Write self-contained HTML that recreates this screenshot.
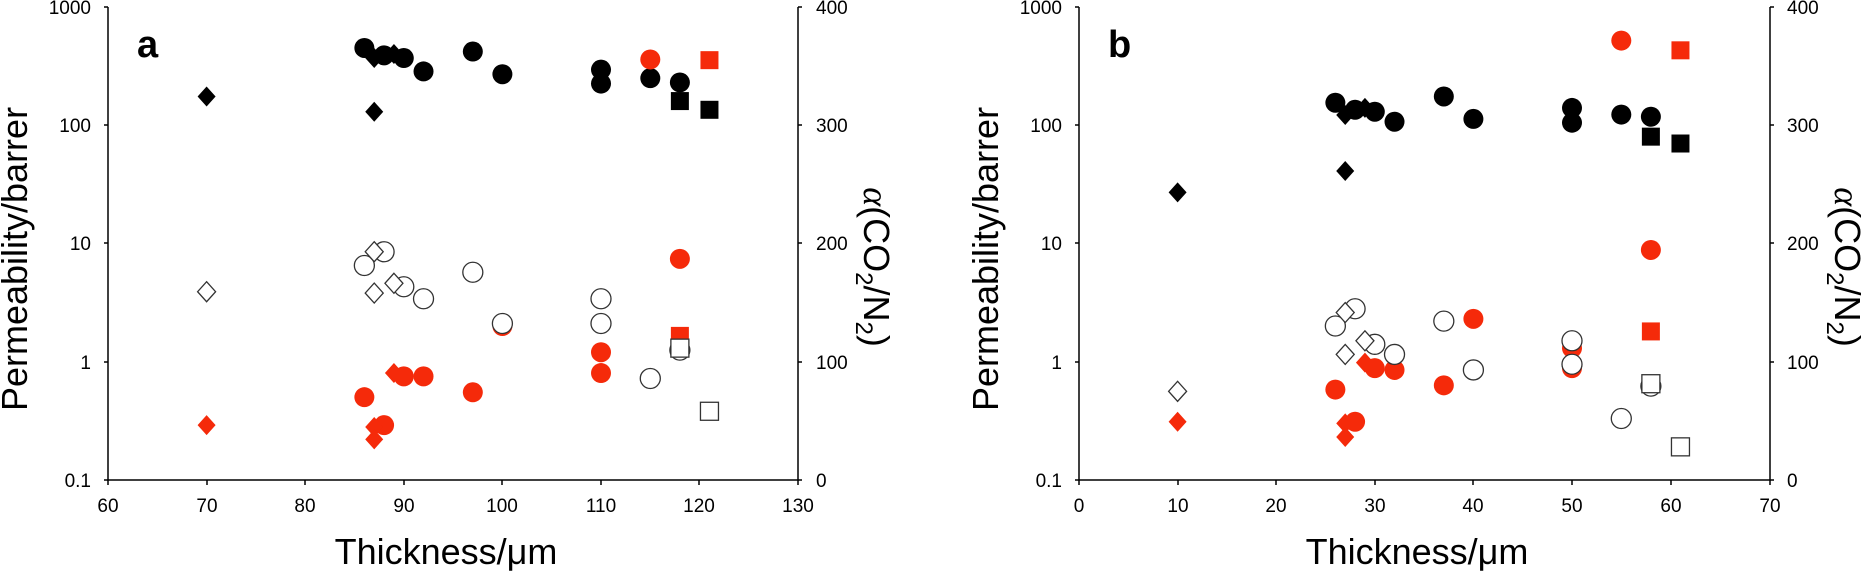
<!DOCTYPE html>
<html><head><meta charset="utf-8"><style>
html,body{margin:0;padding:0;background:#fff;}
svg{display:block;font-family:"Liberation Sans",Arial,sans-serif;}
</style></head><body>
<svg id="s" width="1867" height="572" viewBox="0 0 1867 572" xmlns="http://www.w3.org/2000/svg">
<g stroke="#000" stroke-width="1.5" fill="none">
<path d="M108,7 V480 H798 V7"/>
<path d="M104,7H108M104,125H108M104,243H108M104,362H108M104,480H108"/>
<path d="M798,7H802M798,125H802M798,243H802M798,362H802M798,480H802"/>
<path d="M108,480V485M207,480V485M305,480V485M404,480V485M502,480V485M601,480V485M699,480V485M798,480V485"/>
<path d="M1079,7 V480 H1770 V7"/>
<path d="M1075,7H1079M1075,125H1079M1075,243H1079M1075,362H1079M1075,480H1079"/>
<path d="M1770,7H1774M1770,125H1774M1770,243H1774M1770,362H1774M1770,480H1774"/>
<path d="M1079,480V485M1178,480V485M1276,480V485M1375,480V485M1473,480V485M1572,480V485M1671,480V485M1770,480V485"/>
</g>
<g font-size="19" fill="#000" text-anchor="end">
<text x="91" y="14">1000</text><text x="91" y="132">100</text><text x="91" y="250">10</text><text x="91" y="369">1</text><text x="91" y="487">0.1</text>
<text x="1062" y="14">1000</text><text x="1062" y="132">100</text><text x="1062" y="250">10</text><text x="1062" y="369">1</text><text x="1062" y="487">0.1</text>
</g>
<g font-size="19" fill="#000" text-anchor="start">
<text x="816" y="14">400</text><text x="816" y="132">300</text><text x="816" y="250">200</text><text x="816" y="369">100</text><text x="816" y="487">0</text>
<text x="1787" y="14">400</text><text x="1787" y="132">300</text><text x="1787" y="250">200</text><text x="1787" y="369">100</text><text x="1787" y="487">0</text>
</g>
<g font-size="19" fill="#000" text-anchor="middle">
<text x="108" y="512">60</text><text x="207" y="512">70</text><text x="305" y="512">80</text><text x="404" y="512">90</text><text x="502" y="512">100</text><text x="601" y="512">110</text><text x="699" y="512">120</text><text x="798" y="512">130</text>
<text x="1079" y="512">0</text><text x="1178" y="512">10</text><text x="1276" y="512">20</text><text x="1375" y="512">30</text><text x="1473" y="512">40</text><text x="1572" y="512">50</text><text x="1671" y="512">60</text><text x="1770" y="512">70</text>
</g>
<g font-size="36" fill="#000" text-anchor="middle">
<text x="446" y="564">Thickness/μm</text>
<text x="1417" y="564">Thickness/μm</text>
<text transform="translate(27,259) rotate(-90)">Permeability/barrer</text>
<text transform="translate(998,259) rotate(-90)">Permeability/barrer</text>
<text transform="translate(864,267) rotate(90)"><tspan font-style="italic" font-family="'Liberation Serif',serif">α</tspan>(CO<tspan font-size="24" dy="8">2</tspan><tspan dy="-8">/N</tspan><tspan font-size="24" dy="8">2</tspan><tspan dy="-8">)</tspan></text>
<text transform="translate(1835,267) rotate(90)"><tspan font-style="italic" font-family="'Liberation Serif',serif">α</tspan>(CO<tspan font-size="24" dy="8">2</tspan><tspan dy="-8">/N</tspan><tspan font-size="24" dy="8">2</tspan><tspan dy="-8">)</tspan></text>
</g>
<text x="137" y="57" font-size="38" font-weight="bold">a</text>
<text x="1108" y="57" font-size="38" font-weight="bold">b</text>
<g id="m"></g>
</svg>
<script>
var R="#f52a0a";
function Y(v){return 7+(3-Math.log10(v))*118.2;}
var g=document.getElementById('m'),h='';
function pt(x,y,shape,col,open){
 var f=open?'#fff':col,s=open?'stroke="#333" stroke-width="1.3"':'';
 if(shape=='c')h+='<ellipse cx="'+x+'" cy="'+y+'" rx="10" ry="10" fill="'+f+'" '+s+'/>';
 else if(shape=='d')h+='<path d="M'+x+','+(y-10)+'L'+(x+9)+','+y+'L'+x+','+(y+10)+'L'+(x-9)+','+y+'Z" fill="'+f+'" '+s+'/>';
 else h+='<rect x="'+(x-9)+'" y="'+(y-9)+'" width="18" height="18" fill="'+f+'" '+s+'/>';
}
function P(X,list,shape,col,open){list.forEach(function(p){pt(X(p[0]),Y(p[1]),shape,col,open);});}
var Xa=function(t){return 108+(t-60)*9.86;},Xb=function(t){return 1079+t*9.86;};
P(Xa,[[86,0.5],[88,0.29],[90,0.75],[92,0.75],[97,0.55],[100,2.0],[110,1.2],[110,0.8],[118,7.4]],'c',R,0);
P(Xa,[[70,0.29],[87,0.28],[87,0.22],[89,0.8]],'d',R,0);
P(Xa,[[118,1.65]],'s',R,0);
P(Xa,[[86,6.5],[88,8.5],[90,4.3],[92,3.4],[97,5.7],[100,2.1],[110,3.4],[110,2.1],[115,0.72],[118,1.25]],'c','#000',1);
P(Xa,[[70,3.9],[87,8.5],[87,3.8],[89,4.6]],'d','#000',1);
P(Xa,[[118,1.3],[121,0.38]],'s','#000',1);
P(Xa,[[86,450],[88,390],[90,370],[92,285],[97,420],[100,270],[110,295],[110,225],[115,250],[118,230]],'c','#000',0);
P(Xa,[[70,175],[87,130],[87,370],[89,400]],'d','#000',0);
P(Xa,[[118,160],[121,135]],'s','#000',0);
P(Xa,[[115,360]],'c',R,0);P(Xa,[[121,355]],'s',R,0);
P(Xb,[[26,0.58],[28,0.31],[30,0.88],[32,0.85],[37,0.63],[40,2.3],[50,1.3],[50,0.88],[58,8.8]],'c',R,0);
P(Xb,[[10,0.31],[27,0.3],[27,0.23],[29,0.98]],'d',R,0);
P(Xb,[[58,1.8]],'s',R,0);
P(Xb,[[26,2.0],[28,2.8],[30,1.4],[32,1.15],[37,2.2],[40,0.85],[50,1.5],[50,0.95],[55,0.33],[58,0.62]],'c','#000',1);
P(Xb,[[10,0.56],[27,2.6],[27,1.15],[29,1.5]],'d','#000',1);
P(Xb,[[58,0.65],[61,0.19]],'s','#000',1);
P(Xb,[[26,155],[28,135],[30,130],[32,107],[37,175],[40,113],[50,140],[50,105],[55,123],[58,118]],'c','#000',0);
P(Xb,[[10,27],[27,41],[27,122],[29,140]],'d','#000',0);
P(Xb,[[58,80],[61,70]],'s','#000',0);
P(Xb,[[55,520]],'c',R,0);P(Xb,[[61,430]],'s',R,0);
g.innerHTML=h;
</script>
</body></html>
